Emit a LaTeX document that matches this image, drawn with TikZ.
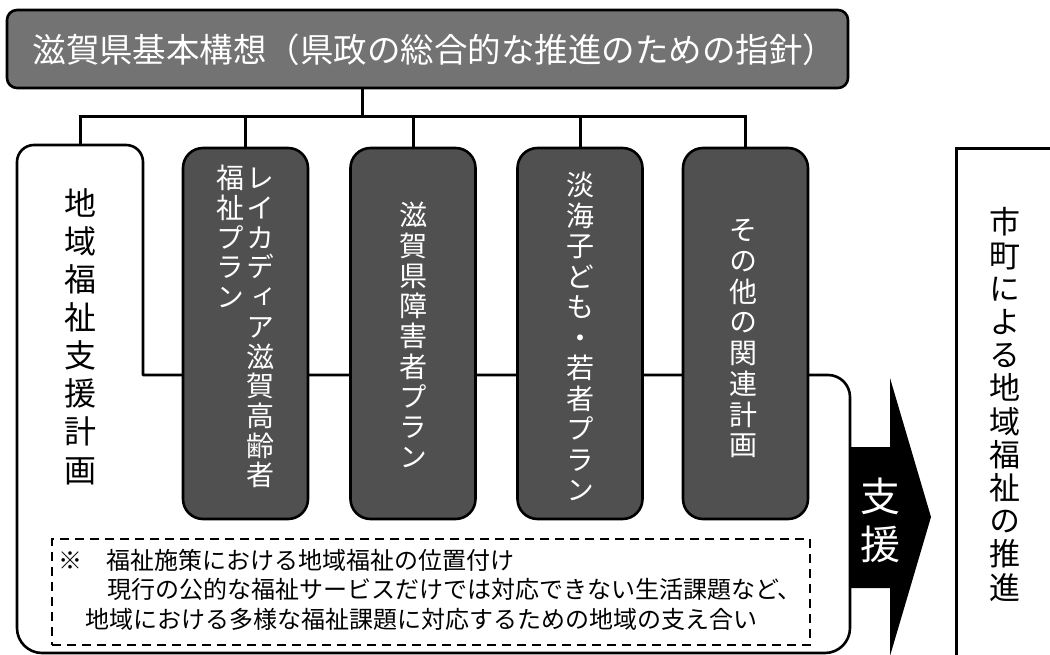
\documentclass[tikz,border=0pt]{standalone}
\usepackage{fontspec}
\setmainfont{Noto Sans CJK JP}
\newfontfamily\jpv{Noto Sans CJK JP}[RawFeature=+vert]
\definecolor{tgray}{RGB}{115,115,115}
\definecolor{dgray}{RGB}{80,80,80}
\makeatletter
\newcommand\vtxt[2]{%
  \vbox{\baselineskip=#1\lineskiplimit=-\maxdimen\lineskip=0pt
  \@tfor\vt@c:=#2\do{\hbox to 1.2em{\hss\vrule height .88em depth .12em width 0pt\vt@c\hss}}}}
\makeatother
\tikzset{
  conn/.style={line width=3pt},
  frameline/.style={line width=2.6pt, line join=round},
  dbox/.style={draw=black, line width=2.6pt, fill=dgray, rounded corners=20pt,
    minimum width=125pt, minimum height=371pt, inner sep=0pt},
  vlab/.style={inner sep=0pt, anchor=north},
  wlab/.style={vlab, text=white},
  noteline/.style={inner sep=0pt, anchor=west, font=\fontsize{24}{28}\selectfont,
    text height=21pt, text depth=3pt},
}
\begin{document}
\begin{tikzpicture}[x=1pt,y=-1pt]
\useasboundingbox (0,0) rectangle (1050,655);
\fill[white] (0,0) rectangle (1050,655);

% big frame of the regional welfare support plan
\draw[frameline] (17,162) -- (17,628)
  .. controls (17,641.8) and (28.2,653) .. (42,653)
  -- (825,653)
  .. controls (838.8,653) and (850,641.8) .. (850,628)
  -- (850,397)
  .. controls (850,384.85) and (840.15,375) .. (828,375)
  -- (143,375) -- (143,162)
  .. controls (143,152.6) and (135.6,145) .. (126,145)
  -- (34,145)
  .. controls (24.6,145) and (17,152.6) .. (17,162) -- cycle;
\coordinate (frametop) at (80,145);

% top box
\node[draw=black, line width=2.6pt, fill=tgray, rounded corners=10pt,
  minimum width=841pt, minimum height=78pt, inner sep=0pt] (top) at (427.5,49) {};
\node[inner sep=0pt, text=white, font=\fontsize{33.5}{36}\selectfont,
  text height=29.5pt, text depth=4pt] (toptext) at (434.5,50)
  {滋賀県基本構想（県政の総合的な推進のための指針）};

% plan boxes
\node[dbox] (b1) at (245.5,333.5) {};
\node[dbox] (b2) at (413,333.5) {};
\node[dbox] (b3) at (580,333.5) {};
\node[dbox] (b4) at (745.5,333.5) {};

% connectors
\coordinate (j) at (362,117);
\draw[conn] (top.south -| j) -- (j);
\draw[conn] (frametop) -- (frametop |- j) -- (j -| b4.north) -- (b4.north);
\draw[conn] (b1.north |- j) -- (b1.north);
\draw[conn] (b2.north |- j) -- (b2.north);
\draw[conn] (b3.north |- j) -- (b3.north);

% vertical labels in the plan boxes
\node[wlab, font=\jpv\fontsize{28}{30}\selectfont] (t1a) at (260,164)
  {\vtxt{29.7pt}{レイカディア滋賀高齢者}};
\node[wlab, font=\jpv\fontsize{28}{30}\selectfont] (t1b) at (230,164)
  {\vtxt{29.7pt}{福祉プラン}};
\node[wlab, font=\jpv\fontsize{28}{30}\selectfont] (t2) at (413,201)
  {\vtxt{30.25pt}{滋賀県障害者プラン}};
\node[wlab, font=\jpv\fontsize{28}{30}\selectfont] (t3) at (580,171)
  {\vtxt{30.5pt}{淡海子ども・若者プラン}};
\node[wlab, font=\jpv\fontsize{28}{30}\selectfont] (t4) at (743,216)
  {\vtxt{30.7pt}{その他の関連計画}};

% frame label
\node[vlab, font=\jpv\fontsize{32}{34}\selectfont] (ft) at (80,187)
  {\vtxt{38.1pt}{地域福祉支援計画}};

% dashed note
\node[draw=black, line width=2pt, dash pattern=on 9pt off 6pt,
  minimum width=758pt, minimum height=106pt, inner sep=0pt] (note) at (431,592) {};
\node[noteline] (n1) at (58,560) {※　福祉施策における地域福祉の位置付け};
\node[noteline] (n2) at (107,589) {現行の公的な福祉サービスだけでは対応できない生活課題など、};
\node[noteline] (n3) at (85,619) {地域における多様な福祉課題に対応するための地域の支え合い};

% support arrow
\fill[black] (850,447) -- (890,447) -- (890,378) -- (931,517) -- (890,656)
  -- (890,588) -- (850,588) -- cycle;
\node[wlab, font=\jpv\fontsize{40}{42}\selectfont] (sup) at (880,476)
  {\vtxt{48pt}{支援}};

% municipalities box
\node[draw=black, line width=3pt, minimum width=110pt, minimum height=530pt,
  inner sep=0pt, anchor=north west] (rbox) at (955,147) {};
\node[vlab, font=\jpv\fontsize{31}{33}\selectfont] (rt) at (1005,206.5)
  {\vtxt{33.2pt}{市町による地域福祉の推進}};
\end{tikzpicture}
\end{document}
